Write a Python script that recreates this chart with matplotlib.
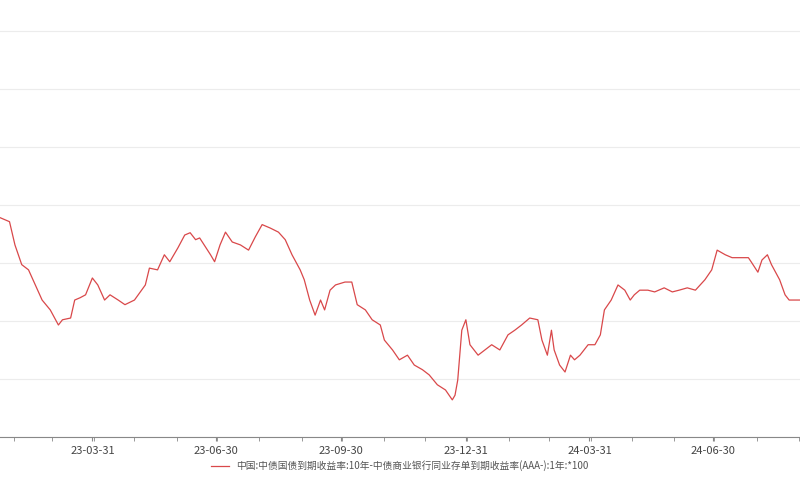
import pandas as pd
import matplotlib
matplotlib.use("Agg")
import matplotlib.pyplot as plt
import matplotlib.dates as mdates

plt.rcParams['font.family'] = ['Noto Sans CJK SC', 'DejaVu Sans']

START = pd.Timestamp("2023-01-22")
DAYS = [0, 7, 11, 16, 21, 26, 31, 37, 43, 46, 52, 55, 59, 63, 68, 72, 77, 81, 87, 92,
        99, 107, 110, 116, 121, 125, 131, 136, 140, 144, 147, 155, 158, 162, 166, 171, 177, 183, 188, 193,
        199, 205, 210, 215, 221, 224, 228, 232, 236, 239, 243, 247, 254, 259, 263, 269, 274, 280, 283, 289,
        294, 300, 305, 311, 316, 322, 328, 333, 335, 337, 340, 343, 346, 352, 357, 362, 368, 374, 379, 384,
        390, 396, 399, 403, 406, 408, 412, 416, 420, 423, 427, 433, 438, 442, 445, 450, 455, 460, 464, 467,
        471, 477, 482, 489, 495, 500, 506, 512, 519, 524, 528, 534, 539, 545, 551, 553, 558, 561, 565, 568,
        574, 578, 581, 589]
SPREAD = [37.8, 37.1, 33.1, 29.7, 28.8, 26.2, 23.6, 21.9, 19.3, 20.2, 20.5, 23.6, 24.0, 24.5, 27.4, 26.2, 23.6, 24.5, 23.6, 22.8,
          23.6, 26.2, 29.1, 28.8, 31.4, 30.2, 32.6, 34.8, 35.2, 34.0, 34.3, 31.4, 30.2, 33.1, 35.3, 33.6, 33.1, 32.2, 34.5, 36.6,
          36.0, 35.3, 34.0, 31.4, 28.8, 27.1, 23.6, 21.0, 23.6, 21.9, 25.3, 26.2, 26.7, 26.7, 22.8, 21.9, 20.2, 19.3, 16.7, 15.0,
          13.3, 14.1, 12.4, 11.6, 10.7, 9.0, 8.1, 6.4, 7.2, 9.8, 18.4, 20.2, 15.9, 14.1, 15.0, 15.9, 15.0, 17.6, 18.4, 19.3,
          20.5, 20.2, 16.7, 14.1, 18.4, 15.0, 12.4, 11.2, 14.1, 13.3, 14.1, 15.9, 15.9, 17.6, 21.9, 23.6, 26.2, 25.3, 23.6, 24.5,
          25.3, 25.3, 25.0, 25.7, 25.0, 25.3, 25.7, 25.3, 27.1, 28.8, 32.2, 31.4, 30.9, 30.9, 30.9, 30.2, 28.4, 30.5, 31.4, 29.7,
          27.1, 24.5, 23.6, 23.6]
LABEL = "中国:中债国债到期收益率:10年-中债商业银行同业存单到期收益率(AAA-):1年:*100"

dates = [START + pd.Timedelta(days=d) for d in DAYS]

fig = plt.figure(figsize=(8, 5), dpi=100)
ax = fig.add_axes([0, 0.126, 1, 0.874])
line, = ax.plot(dates, SPREAD, color="#d9484a", lw=0.9, label=LABEL)
ax.set_xlim(START, pd.Timestamp("2024-09-02"))
ax.set_ylim(0, 75.3)
ax.set_yticks(range(0, 71, 10))
ax.tick_params(axis="y", left=False, labelleft=False)
ax.grid(axis="y", color="#ececec", lw=0.8)
ax.set_axisbelow(True)
for s in ["left", "right", "top"]:
    ax.spines[s].set_visible(False)
ax.spines["bottom"].set_color("#888888")
ax.xaxis.set_major_locator(mdates.MonthLocator(bymonth=[4, 7, 10, 1], bymonthday=1))
ax.xaxis.set_major_locator(mdates.DayLocator(bymonthday=[31, 30]))
major = [pd.Timestamp(d) for d in ["2023-03-31", "2023-06-30", "2023-09-30", "2023-12-31", "2024-03-31", "2024-06-30"]]
ax.set_xticks(major)
ax.set_xticklabels([d.strftime("%y-%m-%d") for d in major], fontsize=8, color="#444444")
ax.xaxis.set_minor_locator(mdates.MonthLocator(bymonthday=-1) if False else mdates.MonthLocator())
ax.tick_params(axis="x", which="both", length=3, color="#888888")
fig.legend(handles=[line], loc="center", bbox_to_anchor=(0.5, 0.068), frameon=False, fontsize=7,
           handlelength=1.8, labelcolor="#555555")
fig.savefig("out.png")
